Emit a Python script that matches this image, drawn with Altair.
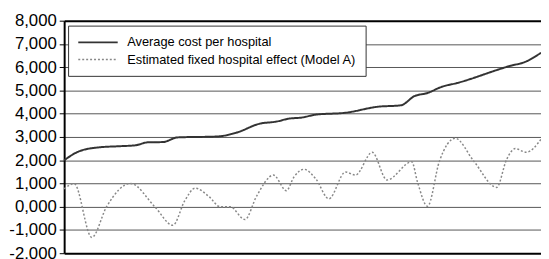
import altair as alt
import pandas as pd

# Hospitals ranked by average cost (x position as % of ranking, axis unlabeled)
cost_x = [0, 3.1, 7.2, 11.4, 14.9, 17.6, 20.7, 23.8, 32.1, 36.2, 41.0, 44.5, 47.2,
          49.7, 52.8, 59.0, 65.8, 70.6, 73.5, 76.2, 79.1, 82.4, 93.6, 96.7, 100]
cost_y = [2000, 2380, 2550, 2600, 2640, 2770, 2780, 2980, 3020, 3190, 3570, 3660, 3790,
          3830, 3960, 4040, 4300, 4360, 4760, 4890, 5150, 5320, 6060, 6230, 6620]

effect_x = [0, 2.1, 5.8, 8.9, 13.9, 19.0, 22.8, 25.3, 27.5, 30.4, 32.7, 34.8, 37.9,
            40.4, 43.9, 46.6, 48.2, 50.3, 52.8, 55.5, 59.0, 61.1, 64.6, 67.7, 72.9,
            74.1, 76.2, 78.7, 82.0, 85.9, 90.7, 92.8, 94.6, 96.9, 100]
effect_y = [770, 990, -1320, 0, 1000, 0, -800, 260, 800, 430, 0, 0, -550,
            470, 1360, 690, 1280, 1610, 1190, 340, 1490, 1360, 2340, 1150, 1930,
            1060, 20, 1960, 2940, 1960, 830, 2040, 2500, 2340, 2900]

series_names = ["Average cost per hospital", "Estimated fixed hospital effect (Model A)"]

tick_values = [-2000, -1000, 0, 1000, 2000, 3000, 4000, 5000, 6000, 7000, 8000]
tick_labels = ["-2,000", "-1,000", "0,000", "1,000", "2,000", "3,000", "4,000",
               "5,000", "6,000", "7,000", "8,000"]

rows = []
for x, y in zip(cost_x, cost_y):
    rows.append({"x": x, "y": y, "series": series_names[0]})
for x, y in zip(effect_x, effect_y):
    rows.append({"x": x, "y": y, "series": series_names[1]})
df = pd.DataFrame(rows)

label_expr = "''"
for v, lab in zip(tick_values, tick_labels):
    label_expr = f"datum.value == {v} ? '{lab}' : ({label_expr})"

FONT = "Liberation Sans"


def make_legend():
    return alt.Legend(title=None, orient="none", legendX=4, legendY=5,
                      fillColor="white", strokeColor="#333", padding=9,
                      symbolType="M-1,0L5,0", symbolSize=178, labelOffset=35,
                      labelFont=FONT, labelFontSize=13, labelColor="black",
                      labelLimit=0, rowPadding=3)


edge_test = "datum.value == 8000 || datum.value == -2000"

chart = alt.Chart(df).mark_line(interpolate="monotone").encode(
    x=alt.X("x:Q", axis=None, scale=alt.Scale(domain=[0, 100], nice=False, zero=False)),
    y=alt.Y("y:Q", title=None,
            scale=alt.Scale(domain=[-2000, 8000], nice=False),
            axis=alt.Axis(values=tick_values, labelExpr=label_expr,
                          labelFont=FONT, labelFontSize=17, labelColor="black",
                          labelPadding=3, tickSize=5, tickColor="black",
                          domain=True, domainColor="black", domainWidth=2,
                          grid=True,
                          gridColor={"condition": {"test": edge_test, "value": "black"}, "value": "#555"},
                          gridWidth={"condition": {"test": edge_test, "value": 2}, "value": 1})),
    color=alt.Color("series:N", scale=alt.Scale(domain=series_names, range=["#333333", "#888888"]),
                    legend=make_legend()),
    strokeDash=alt.StrokeDash("series:N", scale=alt.Scale(domain=series_names, range=[[1, 0], [2, 2]]),
                              legend=make_legend()),
    strokeWidth=alt.StrokeWidth("series:N", scale=alt.Scale(domain=series_names, range=[2, 1.5]),
                                legend=make_legend()),
).properties(
    width=484, height=236,
    autosize=alt.AutoSizeParams(type="none"),
    padding={"left": 57, "top": 11, "right": 0, "bottom": 4},
).configure_view(stroke=None)

chart.save("out.html", embed_options={"renderer": "svg", "actions": False})
